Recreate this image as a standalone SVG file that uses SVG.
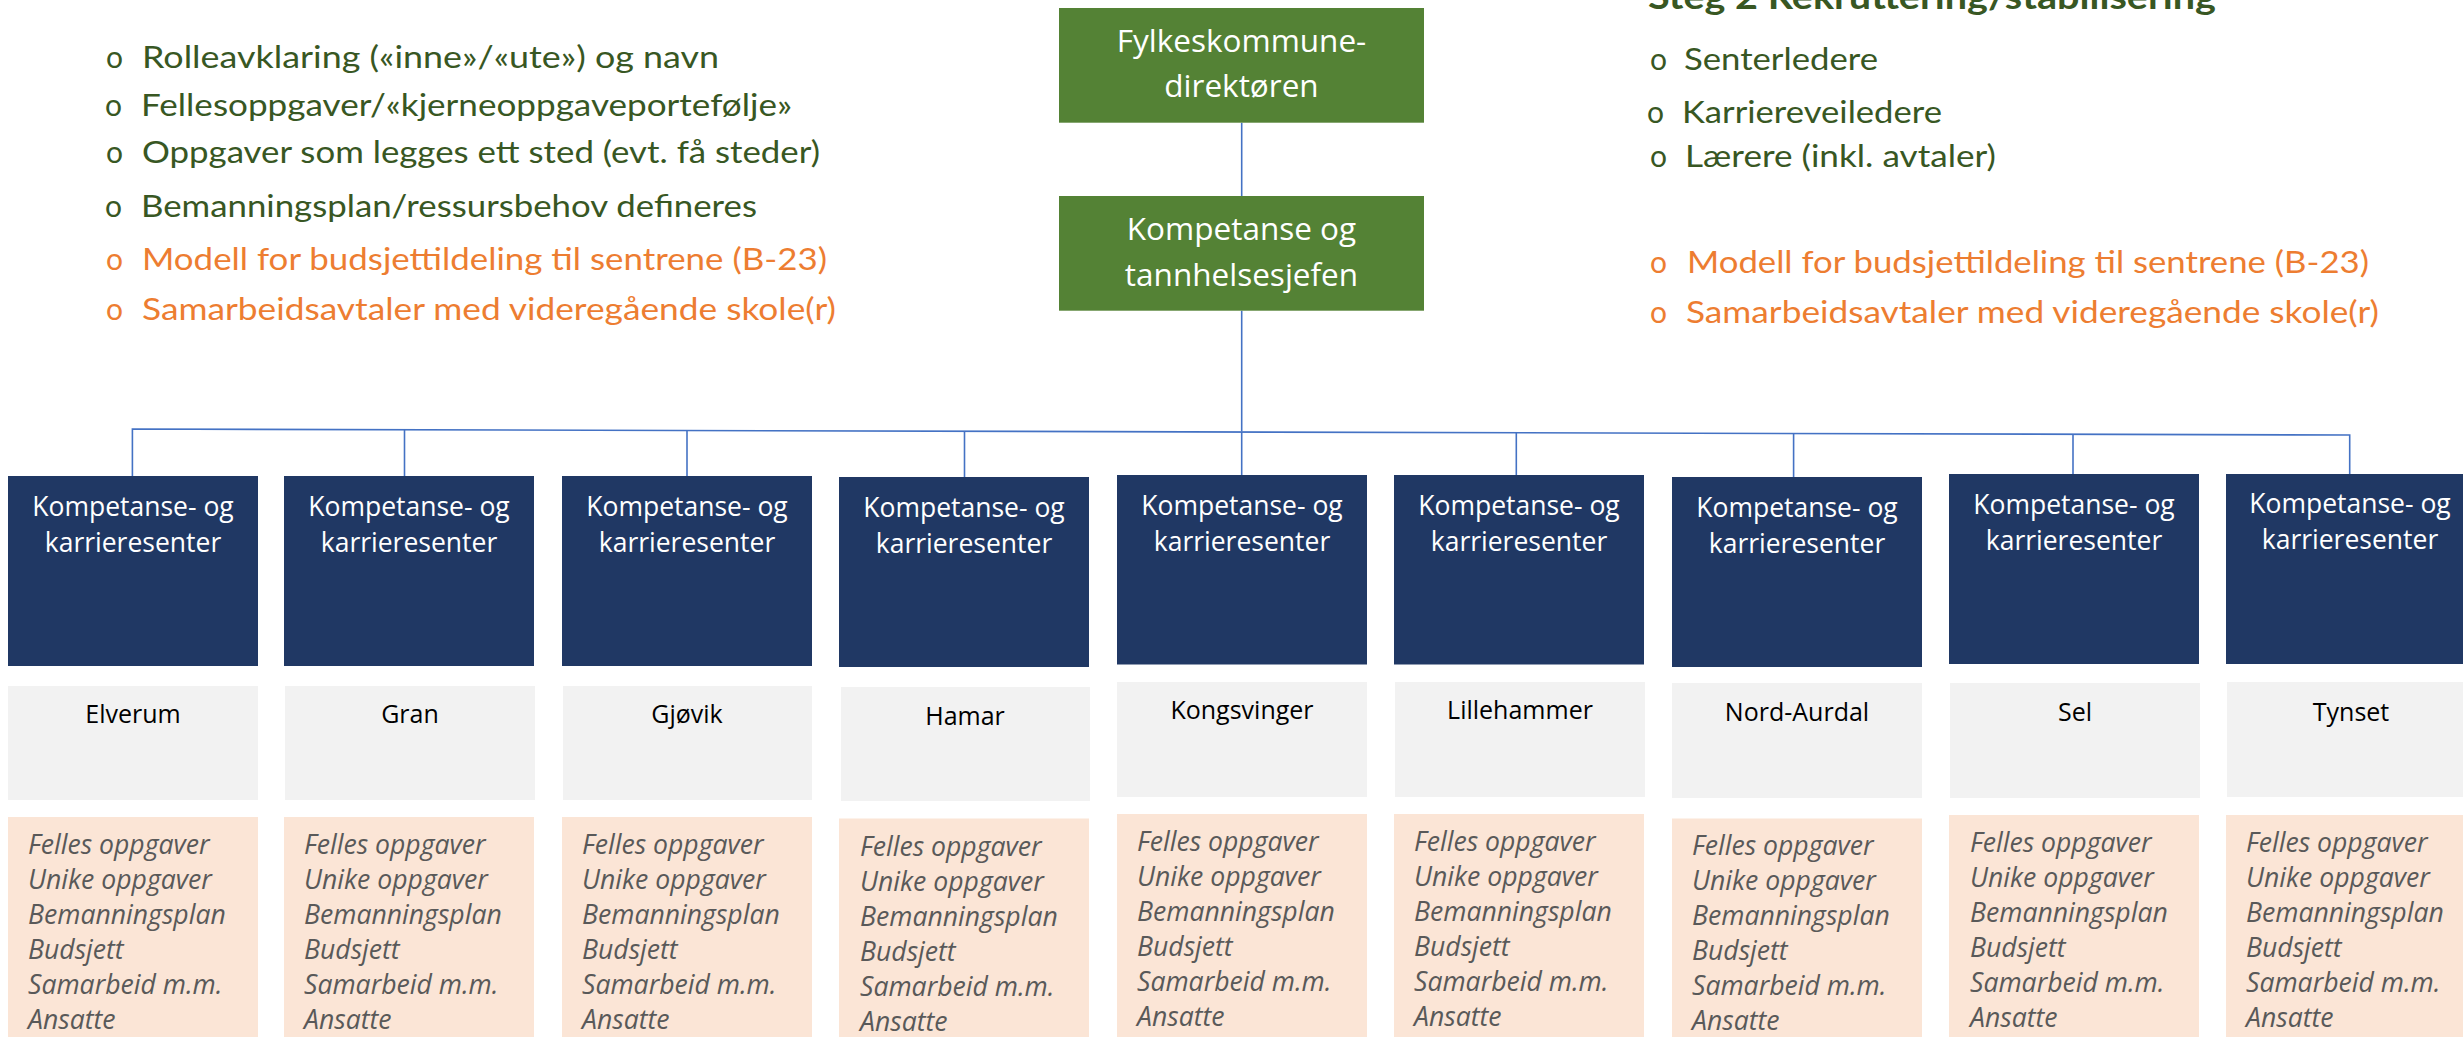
<svg xmlns="http://www.w3.org/2000/svg" width="2463" height="1037" viewBox="0 0 2463 1037">
<style>
.bg{fill:#ffffff}
.gbox{fill:#548235}
.bbox{fill:#203864}
.gray{fill:#F2F2F2}
.peach{fill:#FBE5D6}
.wt{font-family:"Open Sans","DejaVu Sans",sans-serif;fill:#ffffff;text-anchor:middle}
.gt{font-size:31.5px}
.bt{font-size:26.5px}
.ct{font-family:"Open Sans","DejaVu Sans",sans-serif;font-size:25px;fill:#000000;text-anchor:middle}
.pt{font-family:"Open Sans","DejaVu Sans",sans-serif;font-size:26.6px;font-style:italic;fill:#595959}
.bl{font-family:Lato,"Liberation Sans",sans-serif;font-size:30px}
.green{fill:#385723}
.orange{fill:#ED7D31}
.title{font-family:Lato,"Liberation Sans",sans-serif;font-size:34px;font-weight:700;fill:#385723}
.conn{stroke:#4472C4;stroke-width:1.6;fill:none}
</style>
<rect class="bg" x="0" y="0" width="2463" height="1037"/>

<g id="title-right">
<text class="title" x="1648" y="9" textLength="568" lengthAdjust="spacingAndGlyphs">Steg 2 Rekruttering/stabilisering</text>
</g>

<g id="list-left" class="bl">
<text class="green" x="106" y="68">o</text><text class="green" x="142" y="68" textLength="577" lengthAdjust="spacingAndGlyphs">Rolleavklaring («inne»/«ute») og navn</text>
<text class="green" x="105" y="116">o</text><text class="green" x="141" y="116" textLength="651" lengthAdjust="spacingAndGlyphs">Fellesoppgaver/«kjerneoppgaveportefølje»</text>
<text class="green" x="106" y="163">o</text><text class="green" x="142" y="163" textLength="678" lengthAdjust="spacingAndGlyphs">Oppgaver som legges ett sted (evt. få steder)</text>
<text class="green" x="105" y="217">o</text><text class="green" x="141" y="217" textLength="616" lengthAdjust="spacingAndGlyphs">Bemanningsplan/ressursbehov defineres</text>
<text class="orange" x="106" y="270">o</text><text class="orange" x="142" y="270" textLength="685" lengthAdjust="spacingAndGlyphs">Modell for budsjettildeling til sentrene (B-23)</text>
<text class="orange" x="106" y="320">o</text><text class="orange" x="142" y="320" textLength="694" lengthAdjust="spacingAndGlyphs">Samarbeidsavtaler med videregående skole(r)</text>
</g>

<g id="list-right" class="bl">
<text class="green" x="1650" y="70">o</text><text class="green" x="1684" y="70" textLength="194" lengthAdjust="spacingAndGlyphs">Senterledere</text>
<text class="green" x="1647" y="123">o</text><text class="green" x="1682" y="123" textLength="260" lengthAdjust="spacingAndGlyphs">Karriereveiledere</text>
<text class="green" x="1650" y="167">o</text><text class="green" x="1685" y="167" textLength="311" lengthAdjust="spacingAndGlyphs">Lærere (inkl. avtaler)</text>
<text class="orange" x="1650" y="273">o</text><text class="orange" x="1687" y="273" textLength="682" lengthAdjust="spacingAndGlyphs">Modell for budsjettildeling til sentrene (B-23)</text>
<text class="orange" x="1650" y="323">o</text><text class="orange" x="1686" y="323" textLength="693" lengthAdjust="spacingAndGlyphs">Samarbeidsavtaler med videregående skole(r)</text>
</g>

<g id="connectors" class="conn">
<line x1="1241.7" y1="122.7" x2="1241.7" y2="196"/>
<line x1="1241.7" y1="310.7" x2="1241.7" y2="431.4"/>
<polyline points="132.4,476 132.4,429 2349.7,435 2349.7,474"/>
<line x1="404.5" y1="429.7" x2="404.5" y2="476"/>
<line x1="687" y1="430.5" x2="687" y2="476"/>
<line x1="964.5" y1="431.2" x2="964.5" y2="477"/>
<line x1="1241.7" y1="432" x2="1241.7" y2="475"/>
<line x1="1516.3" y1="432.7" x2="1516.3" y2="475"/>
<line x1="1793.6" y1="433.5" x2="1793.6" y2="477"/>
<line x1="2073" y1="434.2" x2="2073" y2="474"/>
</g>

<g id="fylkeskommunedirektoren">
<rect class="gbox" x="1059" y="8" width="365" height="114.7"/>
<text class="wt gt" x="1241.5" y="52">Fylkeskommune-</text>
<text class="wt gt" x="1241.5" y="96.7">direktøren</text>
</g>

<g id="kompetanse-tannhelsesjefen">
<rect class="gbox" x="1059" y="196" width="365" height="114.7"/>
<text class="wt gt" x="1241.5" y="240">Kompetanse og</text>
<text class="wt gt" x="1241.5" y="285.7">tannhelsesjefen</text>
</g>

<g id="senter-elverum">
<rect class="bbox" x="8" y="476" width="250" height="190"/>
<text class="wt bt" x="133" y="516">Kompetanse- og</text>
<text class="wt bt" x="133" y="552">karrieresenter</text>
<rect class="gray" x="8" y="686" width="250" height="114"/>
<text class="ct" x="133" y="723">Elverum</text>
<rect class="peach" x="8" y="817" width="250" height="220"/>
<text class="pt" x="28" y="854">Felles oppgaver<tspan x="28" dy="35">Unike oppgaver</tspan><tspan x="28" dy="35">Bemanningsplan</tspan><tspan x="28" dy="35">Budsjett</tspan><tspan x="28" dy="35">Samarbeid m.m.</tspan><tspan x="28" dy="35">Ansatte</tspan></text>
</g>

<g id="senter-gran">
<rect class="bbox" x="284" y="476" width="250" height="190"/>
<text class="wt bt" x="409" y="516">Kompetanse- og</text>
<text class="wt bt" x="409" y="552">karrieresenter</text>
<rect class="gray" x="285" y="686" width="250" height="114"/>
<text class="ct" x="410" y="723">Gran</text>
<rect class="peach" x="284" y="817" width="250" height="220"/>
<text class="pt" x="304" y="854">Felles oppgaver<tspan x="304" dy="35">Unike oppgaver</tspan><tspan x="304" dy="35">Bemanningsplan</tspan><tspan x="304" dy="35">Budsjett</tspan><tspan x="304" dy="35">Samarbeid m.m.</tspan><tspan x="304" dy="35">Ansatte</tspan></text>
</g>

<g id="senter-gjovik">
<rect class="bbox" x="562" y="476" width="250" height="190"/>
<text class="wt bt" x="687" y="516">Kompetanse- og</text>
<text class="wt bt" x="687" y="552">karrieresenter</text>
<rect class="gray" x="563" y="686" width="249" height="114"/>
<text class="ct" x="687" y="723">Gjøvik</text>
<rect class="peach" x="562" y="817" width="250" height="220"/>
<text class="pt" x="582" y="854">Felles oppgaver<tspan x="582" dy="35">Unike oppgaver</tspan><tspan x="582" dy="35">Bemanningsplan</tspan><tspan x="582" dy="35">Budsjett</tspan><tspan x="582" dy="35">Samarbeid m.m.</tspan><tspan x="582" dy="35">Ansatte</tspan></text>
</g>

<g id="senter-hamar">
<rect class="bbox" x="839" y="477" width="250" height="190"/>
<text class="wt bt" x="964" y="517">Kompetanse- og</text>
<text class="wt bt" x="964" y="553">karrieresenter</text>
<rect class="gray" x="841" y="687" width="249" height="114"/>
<text class="ct" x="965" y="725">Hamar</text>
<rect class="peach" x="839" y="818.5" width="250" height="220"/>
<text class="pt" x="860" y="856">Felles oppgaver<tspan x="860" dy="35">Unike oppgaver</tspan><tspan x="860" dy="35">Bemanningsplan</tspan><tspan x="860" dy="35">Budsjett</tspan><tspan x="860" dy="35">Samarbeid m.m.</tspan><tspan x="860" dy="35">Ansatte</tspan></text>
</g>

<g id="senter-kongsvinger">
<rect class="bbox" x="1117" y="475" width="250" height="189.5"/>
<text class="wt bt" x="1242" y="515">Kompetanse- og</text>
<text class="wt bt" x="1242" y="551">karrieresenter</text>
<rect class="gray" x="1117" y="682" width="250" height="115"/>
<text class="ct" x="1242" y="719">Kongsvinger</text>
<rect class="peach" x="1117" y="814" width="250" height="223"/>
<text class="pt" x="1137" y="851">Felles oppgaver<tspan x="1137" dy="35">Unike oppgaver</tspan><tspan x="1137" dy="35">Bemanningsplan</tspan><tspan x="1137" dy="35">Budsjett</tspan><tspan x="1137" dy="35">Samarbeid m.m.</tspan><tspan x="1137" dy="35">Ansatte</tspan></text>
</g>

<g id="senter-lillehammer">
<rect class="bbox" x="1394" y="475" width="250" height="189.5"/>
<text class="wt bt" x="1519" y="515">Kompetanse- og</text>
<text class="wt bt" x="1519" y="551">karrieresenter</text>
<rect class="gray" x="1395" y="682" width="250" height="115"/>
<text class="ct" x="1520" y="719">Lillehammer</text>
<rect class="peach" x="1394" y="814" width="250" height="223"/>
<text class="pt" x="1414" y="851">Felles oppgaver<tspan x="1414" dy="35">Unike oppgaver</tspan><tspan x="1414" dy="35">Bemanningsplan</tspan><tspan x="1414" dy="35">Budsjett</tspan><tspan x="1414" dy="35">Samarbeid m.m.</tspan><tspan x="1414" dy="35">Ansatte</tspan></text>
</g>

<g id="senter-nord-aurdal">
<rect class="bbox" x="1672" y="477" width="250" height="190"/>
<text class="wt bt" x="1797" y="517">Kompetanse- og</text>
<text class="wt bt" x="1797" y="553">karrieresenter</text>
<rect class="gray" x="1672" y="683" width="250" height="115"/>
<text class="ct" x="1797" y="721">Nord-Aurdal</text>
<rect class="peach" x="1672" y="818.5" width="250" height="220"/>
<text class="pt" x="1692" y="855">Felles oppgaver<tspan x="1692" dy="35">Unike oppgaver</tspan><tspan x="1692" dy="35">Bemanningsplan</tspan><tspan x="1692" dy="35">Budsjett</tspan><tspan x="1692" dy="35">Samarbeid m.m.</tspan><tspan x="1692" dy="35">Ansatte</tspan></text>
</g>

<g id="senter-sel">
<rect class="bbox" x="1949" y="474" width="250" height="190"/>
<text class="wt bt" x="2074" y="514">Kompetanse- og</text>
<text class="wt bt" x="2074" y="550">karrieresenter</text>
<rect class="gray" x="1950" y="683" width="250" height="115"/>
<text class="ct" x="2075" y="721">Sel</text>
<rect class="peach" x="1949" y="815" width="250" height="222"/>
<text class="pt" x="1970" y="852">Felles oppgaver<tspan x="1970" dy="35">Unike oppgaver</tspan><tspan x="1970" dy="35">Bemanningsplan</tspan><tspan x="1970" dy="35">Budsjett</tspan><tspan x="1970" dy="35">Samarbeid m.m.</tspan><tspan x="1970" dy="35">Ansatte</tspan></text>
</g>

<g id="senter-tynset">
<rect class="bbox" x="2226" y="474" width="250" height="190"/>
<text class="wt bt" x="2350" y="513">Kompetanse- og</text>
<text class="wt bt" x="2350" y="549">karrieresenter</text>
<rect class="gray" x="2227" y="682" width="250" height="115"/>
<text class="ct" x="2351" y="721">Tynset</text>
<rect class="peach" x="2226" y="815" width="250" height="222"/>
<text class="pt" x="2246" y="852">Felles oppgaver<tspan x="2246" dy="35">Unike oppgaver</tspan><tspan x="2246" dy="35">Bemanningsplan</tspan><tspan x="2246" dy="35">Budsjett</tspan><tspan x="2246" dy="35">Samarbeid m.m.</tspan><tspan x="2246" dy="35">Ansatte</tspan></text>
</g>
</svg>
